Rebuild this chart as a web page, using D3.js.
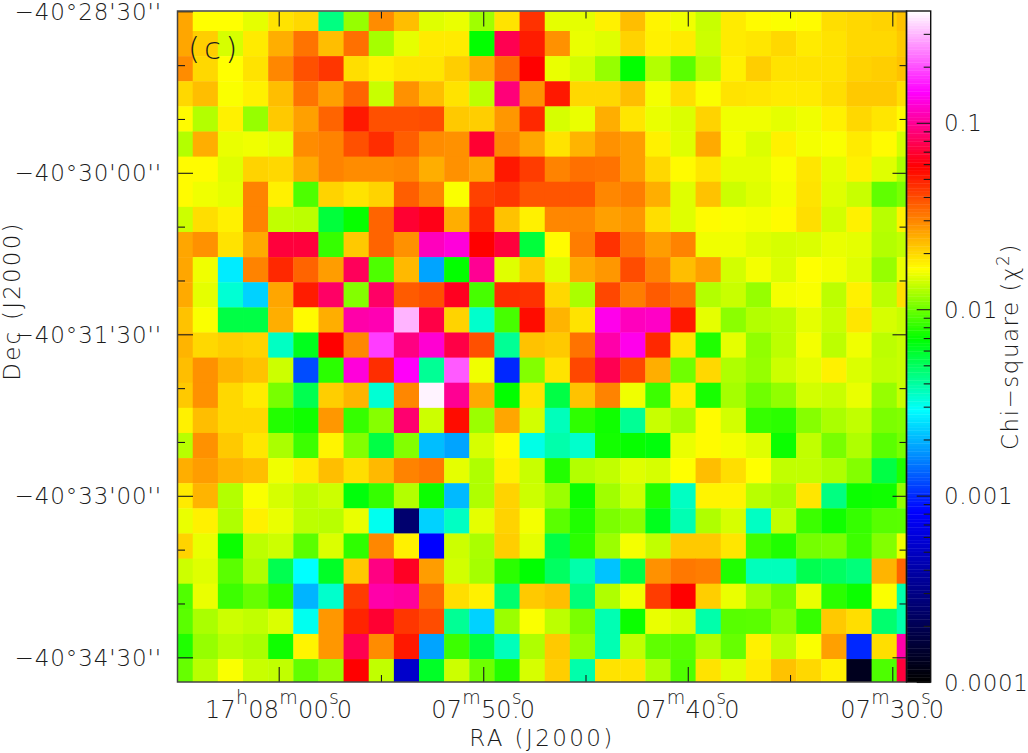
<!DOCTYPE html>
<html>
<head>
<meta charset="utf-8">
<script src="https://cdn.jsdelivr.net/npm/d3@7"></script>
<style>
html,body{margin:0;padding:0;background:#fff;overflow:hidden}
svg{display:block}
text{font-family:"DejaVu Sans",sans-serif;font-weight:200;fill:#1c1c1c}
</style>
</head>
<body>
<svg id="chart" width="1028" height="753"></svg>
<script>
// chi-square per map pixel, top row first, left column (largest RA) first
const chi2 = [
[.0253,.0163,.0163,.0149,.0187,.0198,.0044,.0114,.0287,.0225,.0146,.0152,.0118,.0187,.0449,.0149,.0149,.0175,.0225,.0172,.0155,.0135,.018,.0166,.0161,.0166,.0192,.0198,.0203,.022],
[.0253,.0208,.0142,.018,.0243,.0325,.0225,.033,.012,.0149,.018,.018,.0069,.077,.05,.028,.0152,.0146,.0203,.0175,.018,.0137,.018,.0184,.0198,.018,.0187,.0198,.0198,.0213],
[.0287,.0198,.0163,.0187,.0295,.0386,.044,.0192,.0175,.0184,.0184,.0208,.0248,.0342,.0574,.0152,.014,.0114,.0069,.0126,.0093,.0128,.0175,.0208,.0187,.0187,.0187,.0203,.0208,.022],
[.0198,.0225,.016,.0175,.0225,.0325,.026,.035,.0135,.028,.0225,.0187,.013,.089,.028,.051,.0198,.0198,.0225,.0157,.0192,.016,.0187,.0184,.018,.018,.0192,.0213,.0213,.0192],
[.0166,.0126,.0175,.0114,.0213,.026,.035,.051,.0386,.0386,.0395,.0213,.0208,.0272,.0472,.0142,.0152,.0243,.0184,.0152,.0144,.0203,.0155,.0155,.0149,.0155,.0175,.0198,.0184,.0166],
[.0126,.0243,.0152,.0155,.0149,.0287,.03,.0386,.046,.036,.0287,.028,.0688,.0295,.0253,.0187,.0236,.028,.0265,.0175,.0146,.0248,.0157,.0144,.0175,.0157,.016,.018,.0166,.014],
[.0166,.0166,.0146,.0203,.0198,.0248,.03,.0287,.0287,.0295,.0243,.028,.0253,.051,.0427,.03,.033,.0325,.0265,.0198,.0166,.0184,.0149,.0149,.016,.0184,.0149,.0175,.0146,.0122],
[.0166,.0155,.0149,.03,.0175,.0089,.0203,.0187,.0203,.036,.03,.016,.0417,.044,.0377,.0377,.0377,.0295,.031,.0243,.0146,.022,.0137,.0146,.0157,.0187,.0146,.0135,.0095,.0104],
[.0137,.0192,.0175,.03,.0132,.013,.0056,.007,.035,.0688,.0625,.0243,.0472,.022,.0175,.0295,.0295,.026,.0272,.0192,.0146,.0166,.016,.0157,.0166,.0192,.014,.0175,.0128,.0175],
[.0253,.028,.0187,.0248,.0714,.0714,.0082,.0213,.035,.028,.114,.127,.0574,.0714,.0056,.0166,.031,.0449,.0325,.0265,.03,.0155,.0155,.0146,.0142,.0144,.0152,.0149,.0126,.0132],
[.0253,.0155,.0026,.03,.0472,.035,.0265,.0796,.0089,.023,.00182,.0069,.098,.0146,.0213,.0146,.0248,.0272,.0395,.03,.0225,.026,.014,.0157,.0144,.0163,.0157,.0146,.0114,.0152],
[.0248,.0149,.0033,.00228,.0253,.05,.083,.0107,.083,.0366,.0386,.0644,.0087,.046,.0449,.0198,.0122,.0405,.031,.0366,.033,.0126,.0135,.0114,.0157,.016,.013,.0175,.013,.0192],
[.022,.016,.0054,.0054,.0243,.0166,.0243,.106,.11,.293,.074,.0203,.0034,.0087,.054,.0236,.0187,.135,.114,.118,.051,.0149,.011,.0126,.013,.0149,.0135,.0184,.0142,.0135],
[.0236,.0198,.0208,.0203,.0035,.0062,.0574,.0295,.183,.092,.123,.074,.0386,.0041,.022,.0213,.0325,.106,.135,.0472,.0187,.0076,.0149,.0112,.013,.0157,.013,.0155,.013,.0135],
[.0225,.028,.0236,.022,.0137,.00118,.0079,.127,.046,.142,.0041,.206,.0155,.00098,.0107,.0187,.0405,.077,.0405,.0243,.01,.0198,.0124,.0114,.0137,.0149,.0175,.0144,.0132,.0135],
[.0213,.028,.0198,.018,.0103,.0052,.0208,.0236,.0033,.0295,.375,.098,.0248,.0069,.0187,.0054,.022,.03,.0155,.0084,.018,.0074,.012,.01,.0112,.014,.0135,.0152,.0114,.0135],
[.0175,.0225,.0198,.0198,.0077,.0072,.0272,.0082,.0108,.086,.0137,.054,.0116,.0253,.014,.0036,.008,.0072,.0041,.0135,.012,.0166,.014,.0082,.0079,.0108,.0122,.0132,.0104,.0107],
[.0128,.028,.0213,.0184,.0122,.0084,.0172,.0107,.0054,.0107,.00207,.00182,.0142,.0166,.0031,.0038,.0034,.0073,.007,.0066,.0152,.0166,.0157,.0146,.0071,.0132,.0103,.0124,.0093,.0103],
[.0243,.0265,.0236,.0225,.0155,.018,.0225,.0192,.023,.03,.0317,.0149,.0124,.0175,.0135,.0077,.0126,.0132,.0146,.0142,.0163,.0225,.0192,.0163,.0132,.0132,.0124,.0107,.0054,.0076],
[.018,.0236,.0126,.016,.0142,.013,.0137,.0066,.0082,.0126,.0071,.00203,.0124,.0203,.0137,.0116,.0071,.0118,.0137,.0077,.0035,.0172,.0172,.0128,.012,.0184,.0044,.0071,.0072,.0112],
[.0152,.0175,.0124,.0175,.0152,.013,.0128,.0152,.003,.000246,.00228,.0035,.0149,.0203,.0157,.0093,.0076,.0104,.011,.0062,.0037,.0124,.0142,.0035,.0132,.0084,.0072,.0082,.0092,.0093],
[.0203,.0152,.0071,.013,.0137,.0093,.0144,.008,.0295,.0175,.00081,.0137,.0122,.0208,.0149,.0054,.0079,.0116,.0157,.0132,.0213,.0213,.0184,.0085,.0076,.0102,.0104,.0084,.0107,.0155],
[.0137,.0146,.0093,.0124,.0052,.00285,.006,.0213,.092,.0655,.0265,.014,.012,.0079,.0068,.0049,.0038,.00212,.0054,.028,.0317,.031,.0076,.0036,.0036,.0052,.0049,.0045,.0236,.035],
[.009,.0152,.0084,.0097,.0079,.00197,.0034,.0427,.106,.102,.0342,.0192,.0175,.0047,.0213,.0225,.0045,.0124,.0155,.0427,.0574,.0208,.0152,.0118,.01,.0152,.0079,.0071,.016,.0038],
[.0093,.0122,.0137,.0132,.0144,.003,.0272,.048,.0688,.044,.0395,.0041,.00228,.0116,.016,.013,.0104,.0037,.0071,.0152,.0142,.0038,.0092,.0093,.011,.0082,.0213,.0192,.0047,.0038],
[.0076,.0114,.0128,.0122,.0072,.0172,.0272,.077,.0287,.051,.00182,.0084,.0055,.0036,.0124,.0213,.0114,.0037,.0132,.0095,.0092,.0124,.0097,.0175,.013,.016,.026,.00098,.0192,.106],
[.0097,.0128,.016,.0135,.0132,.0095,.0114,.0574,.0132,.00053,.006,.0137,.01,.0077,.0142,.0208,.0038,.0187,.0187,.0124,.009,.0187,.0146,.018,.022,.0198,.0175,.000128,.0089,.0714]
];
// Axis values: RA in seconds past 17h07m, Dec in arcsec south of -40d28m30s
const raMajor = [60, 50, 40, 30];
const raMinor = [55, 45, 35];
const raLabels = [
  [["17",0],["h",1],["08",0],["m",1],["00",0],["s",1],[".0",2]],
  [["07",0],["m",1],["50",0],["s",1],[".0",2]],
  [["07",0],["m",1],["40",0],["s",1],[".0",2]],
  [["07",0],["m",1],["30",0],["s",1],[".0",2]]
];
const decMajor = [0, 90, 180, 270, 360];
const decMinor = [30, 60, 120, 150, 210, 240, 300, 330];
const decLabels = ["\u221240\u00b028'30''", "\u221240\u00b030'00''", "\u221240\u00b031'30''", "\u221240\u00b033'00''", "\u221240\u00b034'30''"];
const cbarMajor = [0.0001, 0.001, 0.01, 0.1];
const cbarLabels = ["0.0001", "0.001", "0.01", "0.1"];
const cbarMinor = [2,3,4,5,6,7,8,9].flatMap(m => [1e-4, 1e-3, 1e-2, 1e-1].map(d => m * d)).filter(v => v < 0.393);
const colorStops = [0.0001, 0.00081, 0.00285, 0.00685, 0.0163, 0.0574, 0.145, 0.393];
const colorNames = ["#000000", "#0000ff", "#00ffff", "#00ff00", "#ffff00", "#ff0000", "#ff00ff", "#ffffff"];

const frame = {l: 178, r: 906.5, t: 11.5, b: 682};
const cellRa = 1.2293, cellDec = 14;       // map pixel size: seconds of RA, arcsec
const raCol1Left = 60 + (278.7 - 192.7) / 20.46;  // left edge of second column
const decRow1Top = 10.98;                  // top edge of second row

const svg = d3.select("#chart");
const x = d3.scaleLinear().domain([60, 30]).range([278.7, 892.3]);
const y = d3.scaleLinear().domain([0, 360]).range([11.3, 657.3]);
const cb = d3.scaleLog().domain([0.0001, 0.393]).range([682, 12]);
const color = d3.scaleLog().domain(colorStops).range(colorNames).clamp(true);

svg.append("defs").append("clipPath").attr("id", "plot").append("rect")
  .attr("x", frame.l).attr("y", frame.t).attr("width", frame.r - frame.l).attr("height", frame.b - frame.t);

// Heat map cells
const cells = chi2.flatMap((row, r) => row.map((v, c) => ({r, c, v})));
svg.append("g").attr("clip-path", "url(#plot)").selectAll("rect").data(cells).join("rect")
  .attr("x", d => x(raCol1Left - (d.c - 1) * cellRa))
  .attr("y", d => y(decRow1Top + (d.r - 1) * cellDec))
  .attr("width", d => x(raCol1Left - d.c * cellRa) - x(raCol1Left - (d.c - 1) * cellRa) + 0.4)
  .attr("height", d => y(decRow1Top + d.r * cellDec) - y(decRow1Top + (d.r - 1) * cellDec) + 0.4)
  .attr("fill", d => color(d.v));

// Colour bar
const cbLevels = d3.range(0, 256).map(i => 0.0001 * Math.pow(0.393 / 0.0001, i / 255));
svg.append("g").selectAll("rect").data(cbLevels).join("rect")
  .attr("x", 907).attr("width", 24)
  .attr("y", d => cb(d) - 2.2).attr("height", 3)
  .attr("fill", d => color(d));
// keep the bar inside its frame
svg.append("rect").attr("x", 906).attr("y", 682).attr("width", 26).attr("height", 6).attr("fill", "#fff");
svg.append("rect").attr("x", 906).attr("y", 5).attr("width", 26).attr("height", 6.5).attr("fill", "#fff");

// Ticks through d3 axes
function ticks(gen, sel, values, size) {
  sel.call(gen.tickValues(values).tickSize(size).tickFormat(""));
  sel.select(".domain").remove();
  sel.selectAll("line").attr("stroke", "#1a1a1a").attr("stroke-width", 1.1);
  sel.selectAll("text").remove();
}
const axes = svg.append("g");
const place = (tx, ty) => axes.append("g").attr("transform", `translate(${tx},${ty})`);
ticks(d3.axisBottom(x), place(0, frame.t), raMajor, 15);
ticks(d3.axisBottom(x), place(0, frame.t), raMinor, 7);
ticks(d3.axisTop(x), place(0, frame.b), raMajor, 15);
ticks(d3.axisTop(x), place(0, frame.b), raMinor, 7);
ticks(d3.axisRight(y), place(frame.l, 0), decMajor, 15);
ticks(d3.axisRight(y), place(frame.l, 0), decMinor, 7);
ticks(d3.axisLeft(y), place(frame.r, 0), decMajor, 14);
ticks(d3.axisLeft(y), place(frame.r, 0), decMinor, 7);
ticks(d3.axisLeft(cb), place(930.7, 0), cbarMajor, 14);
ticks(d3.axisLeft(cb), place(930.7, 0), cbarMinor, 7);

// Frames
svg.append("rect").attr("x", frame.l - 0.5).attr("y", frame.t - 0.5).attr("width", frame.r - frame.l + 0.5).attr("height", frame.b - frame.t + 0.5)
  .attr("fill", "none").attr("stroke", "#444").attr("stroke-width", 1.5);
svg.append("rect").attr("x", 906.5).attr("y", 11).attr("width", 24.2).attr("height", 671)
  .attr("fill", "none").attr("stroke", "#111").attr("stroke-width", 1.4);

// Tick labels
const fs = 23;
svg.append("g").selectAll("text").data(decLabels).join("text")
  .attr("x", 162).attr("y", (d, i) => y(decMajor[i]) + 8.5)
  .attr("text-anchor", "end").attr("font-size", fs).attr("letter-spacing", 0.9).text(d => d);

const raG = svg.append("g").selectAll("text").data(raLabels).join("text")
  .attr("x", (d, i) => x(raMajor[i])).attr("y", 718)
  .attr("text-anchor", "middle").attr("font-size", 24).attr("letter-spacing", 0.2);
raG.selectAll("tspan").data(d => d).join("tspan")
  .text(d => d[0])
  .attr("font-size", d => d[1] === 1 ? 19 : 24)
  .attr("dy", (d, i) => d[1] === 1 ? -14 : (i > 0 ? 14 : 0))
  .attr("dx", d => d[1] === 2 ? -10 : 0);

svg.append("g").selectAll("text").data(cbarLabels).join("text")
  .attr("x", 944).attr("y", (d, i) => cb(cbarMajor[i]) + 8.5)
  .attr("font-size", fs).attr("letter-spacing", 0.7).text(d => d);

// Titles
svg.append("text").attr("x", 542).attr("y", 746).attr("text-anchor", "middle")
  .attr("font-size", fs).attr("letter-spacing", 2.4).text("RA (J2000)");
svg.append("text").attr("transform", "translate(20,301) rotate(-90)").attr("text-anchor", "middle")
  .attr("font-size", fs).attr("letter-spacing", 2.2).text("Dec (J2000)");
const chiT = svg.append("text").attr("transform", "translate(1018,346.5) rotate(-90)").attr("text-anchor", "middle")
  .attr("font-size", fs).attr("letter-spacing", 1.5);
chiT.append("tspan").text("Chi\u2212square (\u03c7");
chiT.append("tspan").text("2").attr("font-size", 17).attr("dy", -9);
chiT.append("tspan").text(")").attr("dy", 9);

svg.append("text").attr("x", 188).attr("y", 59).attr("font-size", 31).attr("letter-spacing", 4).text("(c)");
</script>
</body>
</html>
